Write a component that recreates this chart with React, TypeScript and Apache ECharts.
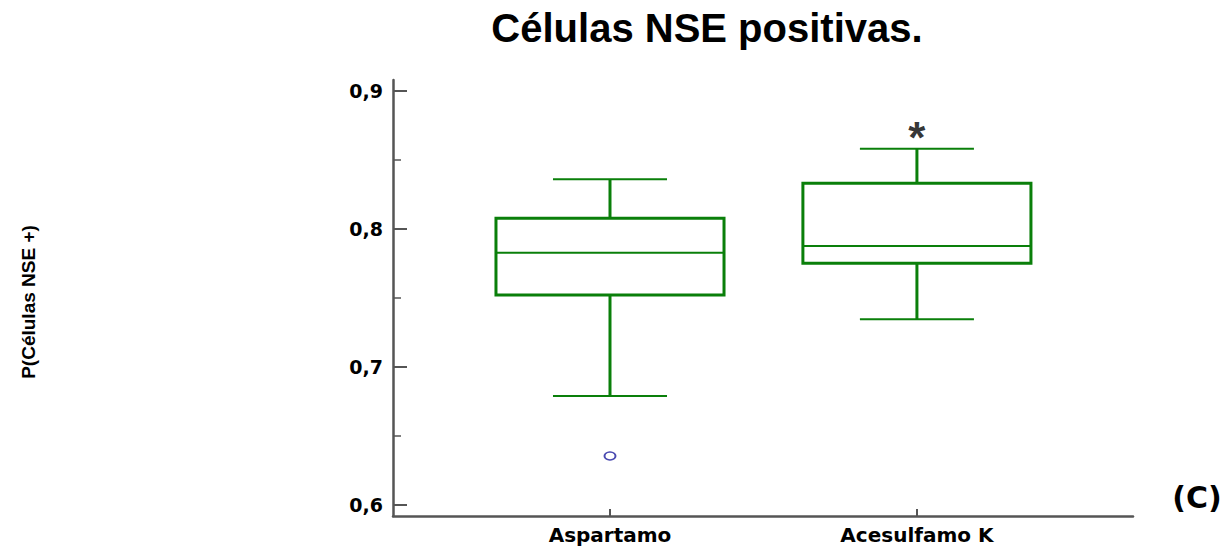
import React, { useEffect, useRef } from "react";
import * as echarts from "echarts";

const chartTitle = "Células NSE positivas.";
const yAxisTitle = "P(Células NSE +)";
const panelLabel = "(C)";
const categories = ["Aspartamo", "Acesulfamo K"];
const whiskerLow = [0.679, 0.7346];
const quartile1 = [0.7522, 0.7751];
const medians = [0.7828, 0.7877];
const quartile3 = [0.8078, 0.8331];
const whiskerHigh = [0.836, 0.8582];
const outlierCategory = [0];
const outlierValue = [0.6355];
const markerCategory = [1];
const markerValue = [0.8696];
const markerText = ["*"];
const yTicks = [0.6, 0.7, 0.8, 0.9];
const yMinorTicks = [0.65, 0.75, 0.85];

const GREEN = "#0a7f0a";
const AXIS = "#555555";
const BOX_WIDTH = 0.743;
const LABEL_FONT = "DejaVu Sans";
const TITLE_FONT = "Liberation Sans";

export default function App() {
  const ref = useRef<HTMLDivElement>(null);
  useEffect(() => {
    if (!ref.current) return;
    const chart = echarts.init(ref.current, null, { renderer: "svg" });
    const xPos = (i: number) => i + 1;
    const boxData = categories.map((_, i) => [
      xPos(i),
      whiskerLow[i],
      quartile1[i],
      medians[i],
      quartile3[i],
      whiskerHigh[i],
    ]);
    const option: any = {
      animation: false,
      backgroundColor: "#ffffff",
      grid: { left: 393, right: 94, top: 80, bottom: 31, containLabel: false },
      graphic: [
        {
          type: "text",
          x: 707,
          y: 28,
          style: {
            text: chartTitle,
            font: `bold 40px "${TITLE_FONT}"`,
            fill: "#000",
            textAlign: "center",
            textVerticalAlign: "middle",
          },
        },
        {
          type: "text",
          x: 28,
          y: 302,
          rotation: Math.PI / 2,
          style: {
            text: yAxisTitle,
            font: `bold 19px "${TITLE_FONT}"`,
            fill: "#000",
            textAlign: "center",
            textVerticalAlign: "middle",
          },
        },
        {
          type: "text",
          x: 1197,
          y: 497,
          style: {
            text: panelLabel,
            font: `bold 30px "${LABEL_FONT}"`,
            fill: "#000",
            textAlign: "center",
            textVerticalAlign: "middle",
          },
        },
      ],
      xAxis: {
        type: "value",
        min: 0.293,
        max: 2.704,
        splitLine: { show: false },
        axisLine: { show: true, onZero: false, lineStyle: { color: AXIS, width: 2.5 } },
        axisTick: {
          show: true,
          inside: true,
          length: 7,
          customValues: categories.map((_, i) => xPos(i)),
          lineStyle: { color: AXIS, width: 2 },
        },
        axisLabel: {
          show: true,
          customValues: categories.map((_, i) => xPos(i)),
          formatter: (v: number) => categories[Math.round(v) - 1] ?? "",
          margin: 9,
          fontFamily: LABEL_FONT,
          fontWeight: "bold",
          fontSize: 20,
          color: "#000",
        },
      },
      yAxis: [
        {
          type: "value",
          min: 0.592,
          max: 0.908,
          position: "left",
          splitLine: { show: false },
          axisLine: { show: true, onZero: false, lineStyle: { color: AXIS, width: 2.5 } },
          axisTick: {
            show: true,
            inside: true,
            length: 14,
            customValues: yTicks,
            lineStyle: { color: AXIS, width: 2 },
          },
          axisLabel: {
            show: true,
            customValues: yTicks,
            formatter: (v: number) => v.toFixed(1).replace(".", ","),
            margin: 10,
            fontFamily: LABEL_FONT,
            fontWeight: "bold",
            fontSize: 19,
            color: "#000",
          },
        },
        {
          type: "value",
          min: 0.592,
          max: 0.908,
          position: "left",
          splitLine: { show: false },
          axisLine: { show: false },
          axisLabel: { show: false },
          axisTick: {
            show: true,
            inside: true,
            length: 8,
            customValues: yMinorTicks,
            lineStyle: { color: AXIS, width: 1.5 },
          },
        },
      ],
      series: [
        {
          type: "custom",
          xAxisIndex: 0,
          yAxisIndex: 0,
          data: boxData,
          encode: { x: 0, y: [1, 2, 3, 4, 5] },
          renderItem: (params: any, api: any) => {
            const x = api.value(0);
            const lo = api.coord([x, api.value(1)]);
            const b1 = api.coord([x, api.value(2)]);
            const md = api.coord([x, api.value(3)]);
            const b3 = api.coord([x, api.value(4)]);
            const hi = api.coord([x, api.value(5)]);
            const halfW = api.size([BOX_WIDTH, 0])[0] / 2;
            const capHalf = halfW / 2;
            const cx = hi[0];
            return {
              type: "group",
              children: [
                { type: "line", shape: { x1: cx, y1: hi[1], x2: cx, y2: b3[1] }, style: { stroke: GREEN, lineWidth: 3 } },
                { type: "line", shape: { x1: cx, y1: b1[1], x2: cx, y2: lo[1] }, style: { stroke: GREEN, lineWidth: 3 } },
                { type: "line", shape: { x1: cx - capHalf, y1: hi[1], x2: cx + capHalf, y2: hi[1] }, style: { stroke: GREEN, lineWidth: 2 } },
                { type: "line", shape: { x1: cx - capHalf, y1: lo[1], x2: cx + capHalf, y2: lo[1] }, style: { stroke: GREEN, lineWidth: 2 } },
                {
                  type: "rect",
                  shape: { x: cx - halfW, y: b3[1], width: 2 * halfW, height: b1[1] - b3[1] },
                  style: { fill: "none", stroke: GREEN, lineWidth: 3 },
                },
                { type: "line", shape: { x1: cx - halfW, y1: md[1], x2: cx + halfW, y2: md[1] }, style: { stroke: GREEN, lineWidth: 2 } },
              ],
            };
          },
        },
        {
          type: "scatter",
          xAxisIndex: 0,
          yAxisIndex: 0,
          data: outlierCategory.map((c, i) => [xPos(c), outlierValue[i]]),
          symbol: "circle",
          symbolSize: [11, 8],
          itemStyle: { color: "#ffffff", borderColor: "#1c1c9c", borderWidth: 1.6 },
        },
        {
          type: "scatter",
          xAxisIndex: 0,
          yAxisIndex: 0,
          data: markerCategory.map((c, i) => [xPos(c), markerValue[i]]),
          symbolSize: 0,
          itemStyle: { color: "#000000" },
          label: {
            show: true,
            position: "inside",
            formatter: (p: any) => markerText[p.dataIndex],
            fontFamily: TITLE_FONT,
            fontWeight: "bold",
            fontSize: 44,
            color: "#000",
            textBorderWidth: 0,
            offset: [0, 5],
          },
        },
      ],
    };
    chart.setOption(option);
    return () => chart.dispose();
  }, []);
  return (
    <div
      ref={ref}
      style={{ position: "absolute", left: 0, top: 0, width: 1227, height: 547 }}
    />
  );
}
